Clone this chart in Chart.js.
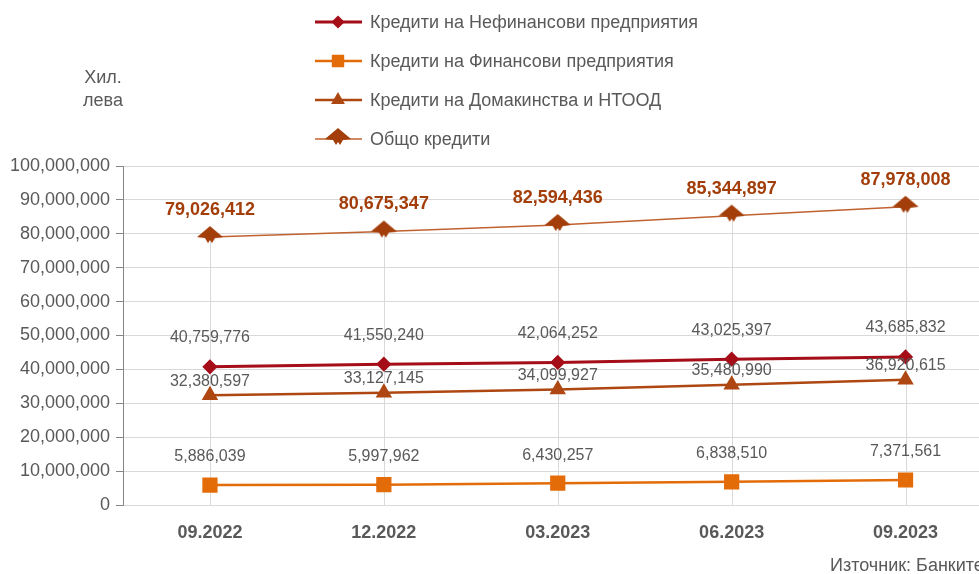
<!DOCTYPE html>
<html>
<head>
<meta charset="utf-8">
<script src="https://cdn.jsdelivr.net/npm/chart.js@4.4.0/dist/chart.umd.min.js"></script>
<style>
	body { margin: 0; width: 979px; height: 574px; overflow: hidden; background: #fff; font-family: "Liberation Sans", Arial, sans-serif; }
	#wrap { position: absolute; left: 0; top: 0; width: 1006px; height: 574px; }
	.note { position: absolute; color: #595959; font-size: 18px; white-space: nowrap; }
</style>
</head>
<body>
<div id="wrap"><canvas id="canvasCredits"></canvas></div>
<div class="note" style="left:78px; top:66px; width:50px; text-align:center; line-height:23px;">Хил.<br>лева</div>
<div class="note" style="left:830px; top:555px; line-height:20px;">Източник: Банките</div>
<script>
"use strict";

// data (thousand leva)
var periods = ['09.2022', '12.2022', '03.2023', '06.2023', '09.2023'];
var nonFinancial = [40759776, 41550240, 42064252, 43025397, 43685832];
var financial = [5886039, 5997962, 6430257, 6838510, 7371561];
var households = [32380597, 33127145, 34099927, 35480990, 36920615];
var totalCredits = [79026412, 80675347, 82594436, 85344897, 87978008];
var yTicks = [0, 10000000, 20000000, 30000000, 40000000, 50000000, 60000000, 70000000, 80000000, 90000000, 100000000];

var fontFamily = '"Liberation Sans", Arial, sans-serif';
var textGray = '#595959';

// marker for the total series (wide arrow-like diamond)
function MakeTotalMarker() {
	var c = document.createElement('canvas');
	c.width = 28;
	c.height = 26;
	var g = c.getContext('2d');
	g.fillStyle = '#A33E0A';
	g.beginPath();
	g.moveTo(14, 2);
	g.lineTo(27, 13);
	g.lineTo(19, 14);
	g.lineTo(16, 19);
	g.lineTo(14, 16);
	g.lineTo(12, 19);
	g.lineTo(9, 14);
	g.lineTo(1, 13);
	g.closePath();
	g.fill();
	return c;
}

function Fmt(v) {
	return v.toLocaleString('en-US');
}

// drop lines from the top series down to the axis
var dropLines = {
	id: 'dropLines',
	beforeDatasetsDraw: function (chart) {
		var ctx = chart.ctx;
		var x = chart.scales.x, y = chart.scales.y;
		ctx.save();
		ctx.strokeStyle = '#D9D9D9';
		ctx.lineWidth = 1;
		totalCredits.forEach(function (v, i) {
			var px = Math.round(x.getPixelForValue(i)) + 0.5;
			ctx.beginPath();
			ctx.moveTo(px, y.getPixelForValue(v));
			ctx.lineTo(px, y.getPixelForValue(0));
			ctx.stroke();
		});
		ctx.restore();
	}
};

// value labels above the points
var valueLabels = {
	id: 'valueLabels',
	afterDatasetsDraw: function (chart) {
		var ctx = chart.ctx;
		ctx.save();
		ctx.textAlign = 'center';
		ctx.textBaseline = 'middle';
		chart.data.datasets.forEach(function (ds, di) {
			var meta = chart.getDatasetMeta(di);
			ctx.font = (ds.labelBold ? 'bold 18px ' : '16px ') + fontFamily;
			ctx.fillStyle = ds.labelColor;
			meta.data.forEach(function (pt, i) {
				ctx.fillText(Fmt(ds.data[i]), pt.x, pt.y - ds.labelOffset);
			});
		});
		ctx.restore();
	}
};

// stacked legend at the top
var stackedLegend = {
	id: 'stackedLegend',
	afterDraw: function (chart) {
		var ctx = chart.ctx;
		ctx.save();
		ctx.font = '18px ' + fontFamily;
		ctx.textBaseline = 'middle';
		chart.data.datasets.forEach(function (ds, i) {
			var y = 22 + i * 39;
			ctx.strokeStyle = ds.borderColor;
			ctx.lineWidth = ds.borderWidth;
			ctx.beginPath();
			ctx.moveTo(315, y);
			ctx.lineTo(362, y);
			ctx.stroke();
			ctx.fillStyle = ds.pointBackgroundColor;
			ctx.strokeStyle = ds.pointBorderColor;
			Chart.helpers.drawPoint(ctx, { pointStyle: ds.pointStyle, radius: ds.legendRadius, borderWidth: 1, rotation: 0 }, 338, y);
			ctx.fillStyle = textGray;
			ctx.fillText(ds.label, 370, y + 1);
		});
		ctx.restore();
	}
};

var context = document.getElementById('canvasCredits');
var myChart = new Chart(context, {
	type: 'line',
	data: {
		labels: periods,
		datasets: [{
			label: 'Кредити на Нефинансови предприятия',
			data: nonFinancial,
			borderColor: '#A50E18',
			borderWidth: 3,
			pointStyle: 'rectRot',
			pointRadius: 5.5,
			legendRadius: 4.5,
			pointBackgroundColor: '#A50E18',
			pointBorderColor: '#A50E18',
			labelColor: textGray,
			labelOffset: 29
		}, {
			label: 'Кредити на Финансови предприятия',
			data: financial,
			borderColor: '#E36C09',
			borderWidth: 2.5,
			pointStyle: 'rect',
			pointRadius: 9,
			legendRadius: 7,
			pointBackgroundColor: '#E36C09',
			pointBorderColor: '#E36C09',
			labelColor: textGray,
			labelOffset: 28
		}, {
			label: 'Кредити на Домакинства и НТООД',
			data: households,
			borderColor: '#AE4712',
			borderWidth: 2.5,
			pointStyle: 'triangle',
			pointRadius: 7,
			legendRadius: 5.5,
			pointBackgroundColor: '#AE4712',
			pointBorderColor: '#AE4712',
			labelColor: textGray,
			labelOffset: 14
		}, {
			label: 'Общо кредити',
			data: totalCredits,
			borderColor: '#C0622E',
			borderWidth: 1.5,
			pointStyle: MakeTotalMarker(),
			pointRadius: 12,
			legendRadius: 12,
			pointBackgroundColor: '#A33E0A',
			pointBorderColor: '#A33E0A',
			labelColor: '#A33E0A',
			labelBold: true,
			labelOffset: 27
		}]
	},
	options: {
		responsive: true,
		maintainAspectRatio: false,
		animation: false,
		layout: { padding: { top: 166, right: 2, left: 0, bottom: 0 } },
		plugins: {
			legend: { display: false },
			tooltip: { enabled: false }
		},
		scales: {
			x: {
				offset: true,
				grid: { display: false, drawTicks: false },
				border: { display: false },
				ticks: {
					color: textGray,
					padding: 17,
					font: { family: fontFamily, size: 18, weight: 'bold' }
				},
				afterFit: function (scale) { scale.height = 69; }
			},
			y: {
				min: 0,
				max: 100000000,
				afterBuildTicks: function (scale) {
					scale.ticks = yTicks.map(function (v) { return { value: v }; });
				},
				grid: { color: '#D9D9D9', tickLength: 7, tickColor: '#868686' },
				border: { color: '#868686', width: 1 },
				ticks: {
					color: textGray,
					padding: 6,
					font: { family: fontFamily, size: 18 },
					callback: function (v) { return Fmt(v); }
				},
				afterFit: function (scale) { scale.width = 123; }
			}
		}
	},
	plugins: [dropLines, valueLabels, stackedLegend]
});
</script>
</body>
</html>
